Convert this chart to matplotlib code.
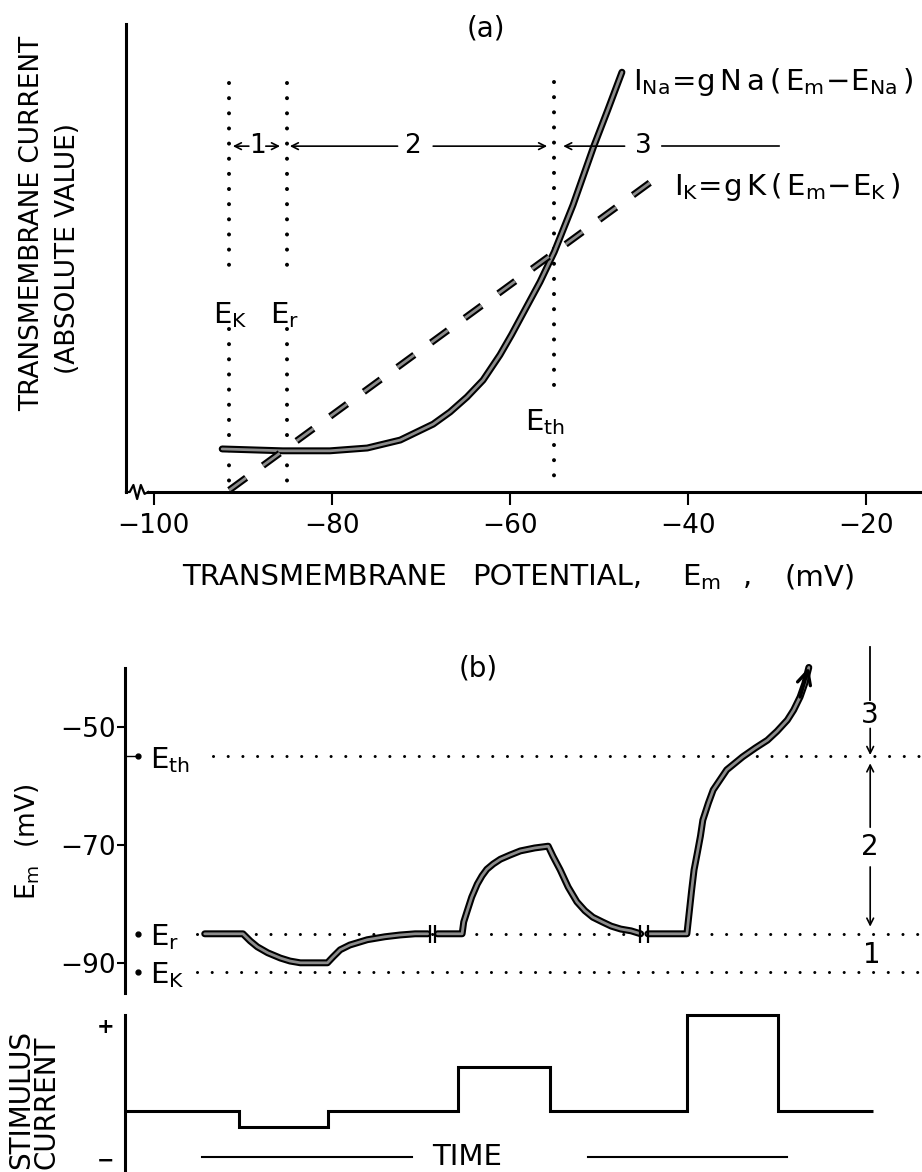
import matplotlib
matplotlib.use('Agg')
import matplotlib.pyplot as plt
import matplotlib.patheffects as pe
import numpy as np

plt.rcParams['font.family'] = ['DejaVu Sans']
plt.rcParams['mathtext.fontset'] = 'dejavusans'
plt.rcParams['font.size'] = 19

# characteristic potentials (mV)
E_K = -91.5
E_R = -85.0
E_TH = -55.0

# panel (a): |I| vs Em (arbitrary current units, 0-100)
na_em = [-92.3, -85.5, -80.2, -76.0, -72.3, -68.6, -66.7, -64.8, -63.0, -61.1, -59.8, -58.3,
         -56.6, -55.0, -52.9, -50.6, -49.0, -47.4]
na_cur = [9.2, 8.8, 8.8, 9.4, 11.1, 14.5, 17.1, 20.3, 23.9, 29.3, 33.6, 38.9,
          44.9, 51.3, 61.3, 73.7, 81.6, 89.7]
k_em = [-91.5, -43.1]
k_cur = [0.4, 67.7]
xticks_a = [-100, -80, -60, -40, -20]

# panel (b): Em vs time (arbitrary time units), three pieces between the breaks
seg1_t = [10.0, 14.8, 15.7, 16.6, 17.9, 19.5, 20.7, 22.0, 25.4, 26.1, 27.0, 28.2, 30.4, 32.6, 34.5, 36.4, 38.0]
seg1_em = [-85.0, -85.0, -86.2, -87.2, -88.2, -89.1, -89.6, -89.9, -89.9, -88.9, -87.7, -86.9, -86.0, -85.5, -85.2, -85.0, -85.0]
seg2_t = [39.2, 42.3, 42.5, 42.9, 43.5, 44.2, 44.8, 45.4, 46.2, 47.1, 48.3, 49.6, 51.4, 53.1,
          53.7, 54.6, 55.6, 56.7, 57.7, 58.7, 59.9, 61.0, 62.2, 63.5, 64.7]
seg2_em = [-85.0, -85.0, -83.0, -81.3, -78.8, -76.6, -75.2, -74.1, -73.2, -72.4, -71.7, -71.0, -70.5, -70.2,
           -71.9, -74.2, -77.1, -79.6, -81.1, -82.2, -83.0, -83.7, -84.2, -84.5, -85.0]
seg3_t = [65.6, 70.5, 70.8, 71.1, 71.4, 71.8, 72.2, 72.5, 73.2, 73.8, 74.7, 75.5, 76.5, 77.5,
          79.1, 80.6, 81.8, 83.1, 83.9, 84.7, 85.3, 85.8]
seg3_em = [-85.0, -85.0, -81.3, -77.6, -74.2, -71.4, -68.5, -65.8, -62.9, -60.7, -58.9, -57.3, -56.2, -55.1,
           -53.6, -52.3, -50.8, -48.9, -47.2, -45.0, -42.7, -40.0]
break_t = [38.3, 38.9, 64.6, 65.6]
yticks_b = [-50, -70, -90]

# stimulus current steps
stim_edges = [0, 14.3, 25.5, 41.8, 53.3, 70.5, 81.9, 93.9]
stim_levels = [0, -1, 0, 2.75, 0, 6, 0]

W, H = 922, 1172
fig = plt.figure(figsize=(W / 100, H / 100), dpi=100)

def px(x, y):
    return x / W, 1 - y / H

trace_fx = [pe.Stroke(linewidth=5.0, foreground='black'),
            pe.Stroke(linewidth=2.0, foreground='#8c8c8c')]
arw = dict(arrowstyle='->', lw=1.2, color='black', shrinkA=0, shrinkB=0, mutation_scale=12)
dot_a = dict(color='black', lw=2.9, ls=(0, (0.01, 3.75)), dash_capstyle='round')
dot_b = dict(color='black', lw=2.2, ls=(0, (0.01, 4.8)), dash_capstyle='round')

# ---------------- panel (a)
ax = fig.add_axes([126 / W, 1 - 492 / H, 796 / W, 468 / H])
ax.set_xlim(-103.1, -13.7)
ax.set_ylim(0, 100)
for s in ['top', 'right']:
    ax.spines[s].set_visible(False)
ax.spines['left'].set_linewidth(2.2)
ax.spines['bottom'].set_linewidth(2.2)
ax.spines['bottom'].set_bounds(-100.6, -13.7)
ax.set_xticks(xticks_a)
ax.set_yticks([])
ax.tick_params(axis='x', direction='out', length=9, width=1.5, pad=6, labelsize=19)

# little break in the axis near the origin
zz_x = np.linspace(-103.1, -100.6, 7)
zz_y = np.array([0, 0, 1.5, -1.5, 1.5, -0.4, 0])
ax.plot(zz_x, zz_y, color='black', lw=1.6, clip_on=False)

# vertical dotted markers
for e in [E_K, E_R]:
    ax.plot([e, e], [87.3, 47.0], **dot_a)
    ax.plot([e, e], [34.8, 0], **dot_a)
ax.plot([E_TH, E_TH], [87.6, 19.7], **dot_a)
ax.plot([E_TH, E_TH], [10.0, 2.6], **dot_a)

ax.plot(na_em, na_cur, color='#555', lw=2, solid_capstyle='round', solid_joinstyle='round',
        path_effects=trace_fx)
ax.plot(k_em, k_cur, color='#555', lw=2, ls=(0, (7.5, 7.5)), path_effects=trace_fx)

ax.text(-93.3, 36.1, r'$\mathrm{E_K}$', ha='left', va='baseline', fontsize=21)
ax.text(-86.9, 36.1, r'$\mathrm{E_r}$', ha='left', va='baseline', fontsize=21)
ax.text(-58.3, 13.2, r'$\mathrm{E_{th}}$', ha='left', va='baseline', fontsize=21)
ax.text(-46.2, 85.9, r'$\mathrm{I_{Na}\!=\!g\,N\,a\,(\,E_m\!-\!E_{Na}\,)}$', ha='left', va='baseline', fontsize=21)
ax.text(-41.6, 63.5, r'$\mathrm{I_K\!=\!g\,K\,(\,E_m\!-\!E_K\,)}$', ha='left', va='baseline', fontsize=21)

# region arrows 1, 2, 3
ya = 73.9
ax.annotate('', xy=(-91.1, ya), xytext=(-89.3, ya), arrowprops=arw)
ax.annotate('', xy=(-85.8, ya), xytext=(-87.4, ya), arrowprops=arw)
ax.text(-88.3, ya, '1', ha='center', va='center', fontsize=19)
ax.annotate('', xy=(-84.7, ya), xytext=(-72.6, ya), arrowprops=arw)
ax.text(-70.9, ya, '2', ha='center', va='center', fontsize=19)
ax.annotate('', xy=(-55.8, ya), xytext=(-68.6, ya), arrowprops=arw)
ax.annotate('', xy=(-54.0, ya), xytext=(-47.1, ya), arrowprops=arw)
ax.text(-45.0, ya, '3', ha='center', va='center', fontsize=19)
ax.plot([-42.9, -29.8], [ya, ya], color='black', lw=1.2)

fig.text(*px(486, 28), '(a)', ha='center', va='center', fontsize=20)
# x label, word by word to keep the wide lettering of the original
for word, xc in [('TRANSMEMBRANE', 315), ('POTENTIAL,', 557), (r'$\mathrm{E_m}$', 701),
                 (',', 747), ('(mV)', 820)]:
    fig.text(*px(xc, 577), word, ha='center', va='center', fontsize=21)
fig.text(*px(32, 223), 'TRANSMEMBRANE CURRENT', rotation=90, ha='center', va='center', fontsize=19)
fig.text(*px(68, 249), '(ABSOLUTE VALUE)', rotation=90, ha='center', va='center', fontsize=19)

# ---------------- panel (b)
bx = fig.add_axes([125 / W, 1 - 993 / H, 797 / W, 325 / H])
bx.set_xlim(0, 100)
bx.set_ylim(-95.0, -40.1)
for s in ['top', 'right', 'bottom']:
    bx.spines[s].set_visible(False)
bx.spines['left'].set_linewidth(2.2)
bx.set_xticks([])
bx.set_yticks(yticks_b)
bx.tick_params(axis='y', direction='out', length=5.5, width=1.5, pad=1, labelsize=19)

bx.plot([11.0, 100], [E_TH, E_TH], clip_on=False, **dot_b)
bx.plot([9.0, 100], [E_R, E_R], clip_on=False, **dot_b)
bx.plot([9.0, 100], [E_K, E_K], clip_on=False, **dot_b)
bx.plot([0, 1.6], [E_TH, E_TH], color='black', lw=1)
bx.plot([1.6, 1.6, 1.6], [E_TH, E_R, E_K], 'o', color='black', ms=3.5)
bx.text(3.1, -57.0, r'$\mathrm{E_{th}}$', ha='left', va='baseline', fontsize=21)
bx.text(3.1, -86.9, r'$\mathrm{E_r}$', ha='left', va='baseline', fontsize=21)
bx.text(3.1, -93.3, r'$\mathrm{E_K}$', ha='left', va='baseline', fontsize=21)

for st, se in [(seg1_t, seg1_em), (seg2_t, seg2_em), (seg3_t, seg3_em)]:
    bx.plot(st, se, color='#555', lw=2, solid_joinstyle='round', solid_capstyle='round',
            path_effects=trace_fx, clip_on=False)
bx.plot(break_t, [E_R] * len(break_t), ls='none', marker='|', ms=13, mew=1.6, color='black')
bx.annotate('', xy=(seg3_t[-1], seg3_em[-1]), xytext=(seg3_t[-3], seg3_em[-3]),
            arrowprops=dict(arrowstyle='->', lw=2.4, color='black', mutation_scale=24,
                            shrinkA=0, shrinkB=0), annotation_clip=False)

# vertical region arrows at the right
xr = 93.5
bx.plot([xr, xr], [-36.6, -45.5], color='black', lw=1.3, clip_on=False)
bx.text(xr, -48.1, '3', ha='center', va='center', fontsize=20)
bx.annotate('', xy=(xr, -54.8), xytext=(xr, -50.3), arrowprops=arw)
bx.annotate('', xy=(xr, -56.2), xytext=(xr, -67.0), arrowprops=arw)
bx.text(xr, -70.3, '2', ha='center', va='center', fontsize=20)
bx.annotate('', xy=(xr, -83.8), xytext=(xr, -73.7), arrowprops=arw)
bx.text(93.7, -88.6, '1', ha='center', va='center', fontsize=20)

fig.text(*px(478, 669), '(b)', ha='center', va='center', fontsize=20)
fig.text(*px(28, 842), r'$\mathrm{E_m}$  (mV)', rotation=90, ha='center', va='center', fontsize=19)

# ---------------- stimulus current
sx = fig.add_axes([125 / W, 0, 797 / W, 157 / H])
sx.set_xlim(0, 100)
sx.set_ylim(-3.81, 6.0)
for s in ['top', 'right', 'bottom']:
    sx.spines[s].set_visible(False)
sx.spines['left'].set_linewidth(2.2)
sx.set_xticks([])
sx.set_yticks([5.4, -2.95])
sx.set_yticklabels(['+', '\u2212'], fontsize=15, fontweight='bold')
sx.tick_params(axis='y', length=0, pad=8)
sx.stairs(stim_levels, stim_edges, baseline=None, color='black', lw=2.2, clip_on=False)

yt = -2.875
sx.plot([9.7, 36.0], [yt, yt], color='black', lw=1.5)
sx.plot([58.1, 83.1], [yt, yt], color='black', lw=1.5)
sx.text(42.9, yt, 'TIME', ha='center', va='center', fontsize=21)

fig.text(*px(34, 1169), 'STIMULUS\nCURRENT', rotation=90, ha='center', va='bottom',
         multialignment='left', linespacing=0.88, fontsize=20)

fig.savefig('out.png', dpi=100)
